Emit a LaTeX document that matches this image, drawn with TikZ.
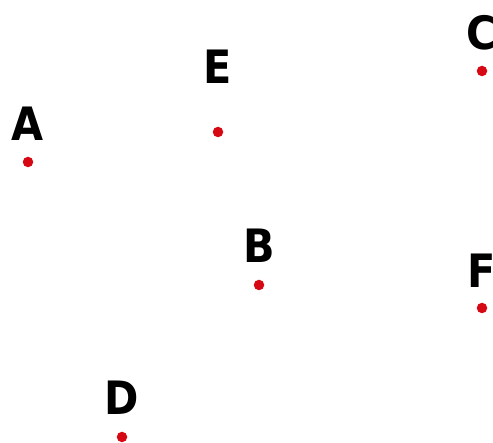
\documentclass[tikz,border=0pt]{standalone}
\usepackage{fontspec}
\newfontfamily\labfont{DejaVu Sans Condensed}
\definecolor{dotred}{RGB}{214,8,20}
\begin{document}
\begin{tikzpicture}[x=1pt,y=-1pt,
  dot/.style={circle,fill=dotred,draw=none,inner sep=0pt,minimum size=10.5pt},
  lab/.style={font=\labfont\bfseries\fontsize{46}{46}\selectfont,inner sep=0pt,anchor=base}]
\useasboundingbox[fill=white] (0,0) rectangle (493,443);
\node[dot] (A) at (28,162) {};
\node[dot] (E) at (218,132) {};
\node[dot] (C) at (482,71) {};
\node[dot] (B) at (259,285) {};
\node[dot] (F) at (482,308) {};
\node[dot] (D) at (122,437) {};
\node[lab] (lA) at (28,141) {A};
\node[lab] (lE) at (218,84) {E};
\node[lab] (lC) at (482,50) {C};
\node[lab] (lB) at (259,263) {B};
\node[lab] (lF) at (482,288) {F};
\node[lab] (lD) at (122,415) {D};
\end{tikzpicture}
\end{document}
